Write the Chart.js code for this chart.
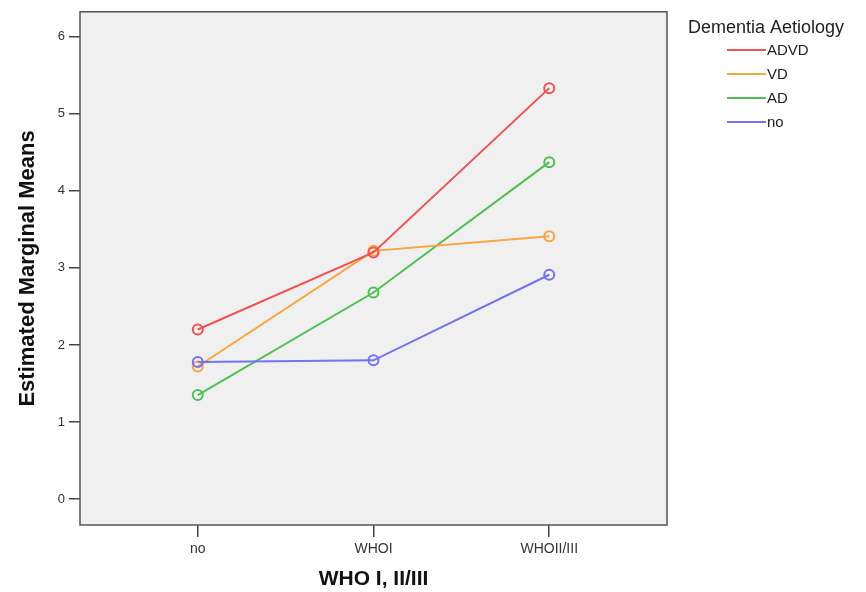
<!DOCTYPE html>
<html>
<head>
<meta charset="utf-8">
<script src="https://cdn.jsdelivr.net/npm/chart.js@4.4.0/dist/chart.umd.min.js"></script>
<style>
  html, body { margin: 0; padding: 0; background: #fff; }
  #wrap { width: 866px; height: 592px; }
</style>
</head>
<body>
<div id="wrap"><canvas id="meansChart" width="866" height="592"></canvas></div>
<script>
// categories on the x axis and estimated marginal means per aetiology
const categories = ['no', 'WHOI', 'WHOII/III'];
const seriesNames = ['ADVD', 'VD', 'AD', 'no'];
const advd = [2.20, 3.20, 5.33];
const vd   = [1.72, 3.22, 3.41];
const ad   = [1.35, 2.68, 4.37];
const none = [1.78, 1.80, 2.91];
const yTicks = [0, 1, 2, 3, 4, 5, 6];

const colors = ['#ef5252', '#f7a53c', '#4fbf52', '#7272f2'];
const allSeries = [advd, vd, ad, none];
const FONT = '"Liberation Sans", Arial, sans-serif';

const toPoints = (vals) => vals.map((v, i) => ({ x: i, y: v }));

// plot background + full frame
const framePlugin = {
  id: 'frame',
  beforeDatasetsDraw(chart) {
    const { ctx, chartArea: a } = chart;
    ctx.save();
    ctx.fillStyle = '#f0f0f0';
    ctx.fillRect(a.left, a.top, a.right - a.left, a.bottom - a.top);
    ctx.restore();
  },
  afterDatasetsDraw(chart) {
    const { ctx, chartArea: a } = chart;
    ctx.save();
    ctx.strokeStyle = '#555';
    ctx.lineWidth = 1.5;
    ctx.strokeRect(a.left, a.top, a.right - a.left, a.bottom - a.top);
    ctx.restore();
  },
};

// SPSS-style legend to the right of the plot
const legendPlugin = {
  id: 'sideLegend',
  afterDraw(chart) {
    const { ctx } = chart;
    ctx.save();
    ctx.font = '18px ' + FONT;
    ctx.fillStyle = '#222';
    ctx.textBaseline = 'middle';
    ctx.textAlign = 'left';
    ctx.fillText('Dementia Aetiology', 688, 28);
    ctx.font = '15px ' + FONT;
    chart.data.datasets.forEach((ds, i) => {
      const y = 50 + i * 24;
      ctx.strokeStyle = ds.borderColor;
      ctx.lineWidth = 2;
      ctx.beginPath();
      ctx.moveTo(727, y);
      ctx.lineTo(766, y);
      ctx.stroke();
      ctx.fillStyle = '#222';
      ctx.fillText(ds.label, 767, y + 1);
    });
    ctx.restore();
  },
};

new Chart(document.getElementById('meansChart'), {
  type: 'line',
  data: {
    datasets: seriesNames.map((name, i) => ({
      label: name,
      data: toPoints(allSeries[i]),
      borderColor: colors[i],
      backgroundColor: 'rgba(0,0,0,0)',
      borderWidth: 2,
      pointRadius: 5,
      pointBorderWidth: 2,
      pointBackgroundColor: 'rgba(0,0,0,0)',
      pointBorderColor: colors[i],
      tension: 0,
      order: i === 3 ? -1 : i,
    })),
  },
  options: {
    responsive: false,
    animation: false,
    layout: { padding: { top: 8, right: 199, left: 0, bottom: 0 } },
    plugins: {
      legend: { display: false },
      tooltip: { enabled: false },
    },
    scales: {
      x: {
        type: 'linear',
        min: -0.67,
        max: 2.67,
        afterBuildTicks: (s) => { s.ticks = categories.map((c, i) => ({ value: i })); },
        afterFit: (s) => { s.height = 67; },
        grid: { drawOnChartArea: false, drawTicks: true, tickLength: 12, color: '#444', lineWidth: 1.5 },
        border: { display: false },
        ticks: {
          color: '#333',
          padding: 4,
          font: { family: FONT, size: 14 },
          callback: (v) => categories[v],
        },
        title: {
          display: true,
          text: 'WHO I, II/III',
          color: '#111',
          font: { family: FONT, size: 21, weight: 'bold' },
          padding: { top: 0, bottom: 0 },
        },
      },
      y: {
        min: -0.335,
        max: 6.32,
        afterBuildTicks: (s) => { s.ticks = yTicks.map((v) => ({ value: v })); },
        afterFit: (s) => { s.width = 80; },
        grid: { drawOnChartArea: false, drawTicks: true, tickLength: 11, color: '#444', lineWidth: 1.5 },
        border: { display: false },
        ticks: {
          color: '#333',
          padding: 4,
          font: { family: FONT, size: 13 },
        },
        title: {
          display: true,
          text: 'Estimated Marginal Means',
          color: '#111',
          font: { family: FONT, size: 22, weight: 'bold' },
          padding: { top: 15, bottom: 0 },
        },
      },
    },
  },
  plugins: [framePlugin, legendPlugin],
});
</script>
</body>
</html>
